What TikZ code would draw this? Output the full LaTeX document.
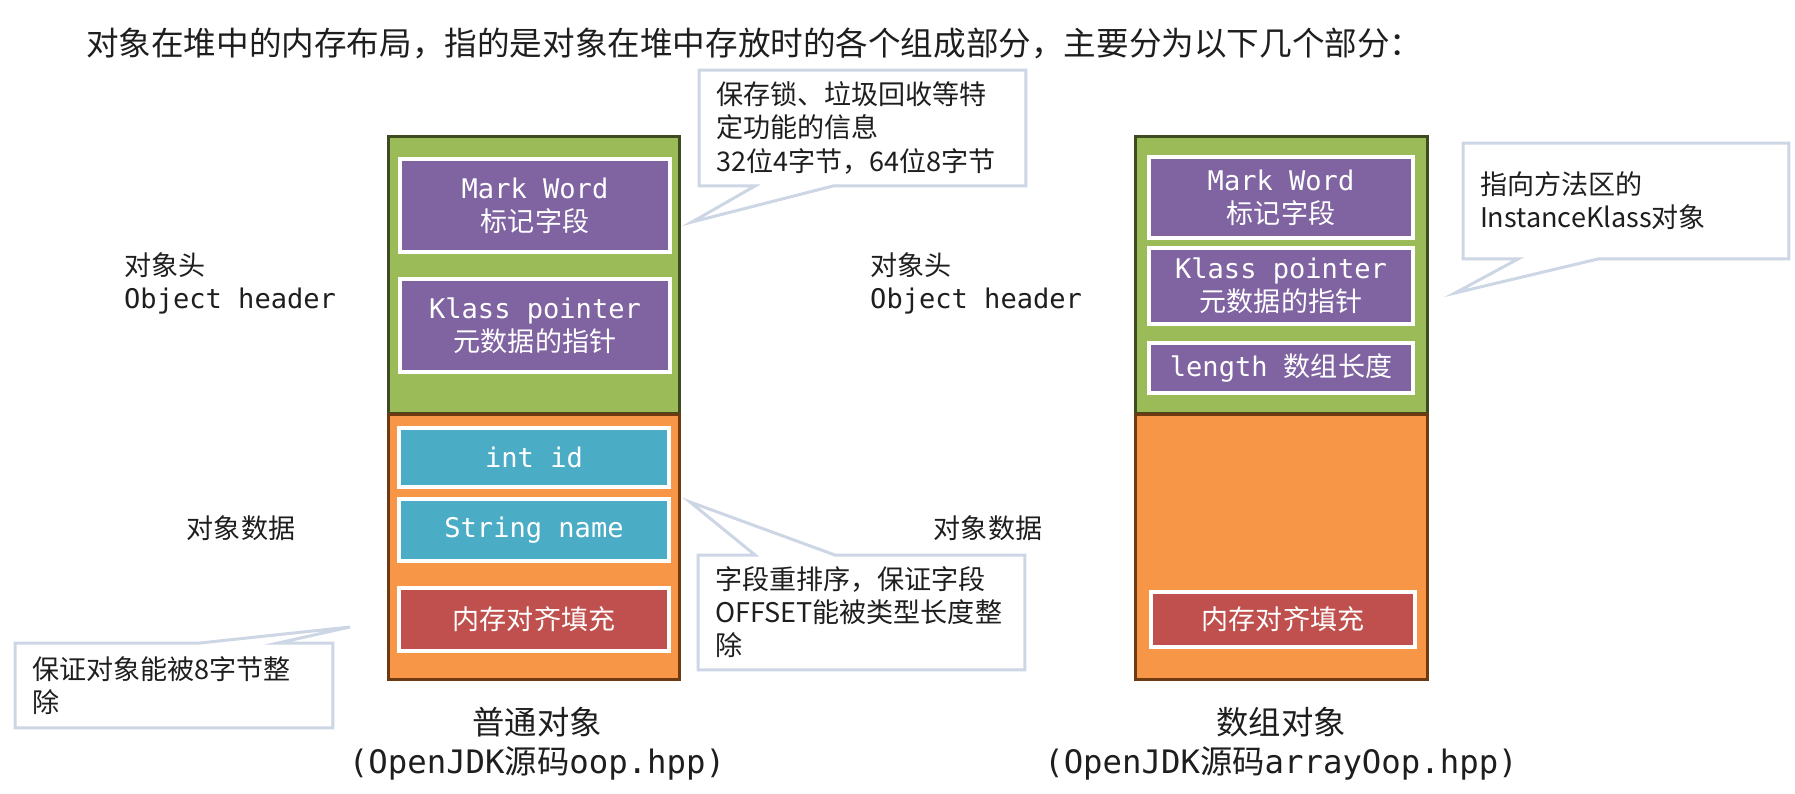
\documentclass[tikz,border=0pt]{standalone}
\usepackage{fontspec}
\setmainfont{Noto Sans CJK SC}
\setmonofont{DejaVu Sans Mono}
\usetikzlibrary{positioning,calc,shadows}
\definecolor{HeadGreen}{RGB}{155,187,89}
\definecolor{HeadEdge}{RGB}{62,74,32}
\definecolor{DataOrange}{RGB}{247,150,70}
\definecolor{DataEdge}{RGB}{110,58,18}
\definecolor{FieldPurple}{RGB}{128,100,162}
\definecolor{FieldBlue}{RGB}{75,172,198}
\definecolor{FieldRed}{RGB}{192,80,77}
\definecolor{NoteEdge}{RGB}{205,214,228}
\definecolor{InkText}{RGB}{30,30,30}
\newcommand{\bodysize}{\fontsize{15.4pt}{18.8pt}\selectfont}
\tikzset{
  headpart/.style={draw=HeadEdge,fill=HeadGreen,line width=0.06cm,outer sep=0,
    minimum width=5.84cm,minimum height=5.56cm},
  datapart/.style={draw=DataEdge,fill=DataOrange,line width=0.06cm,outer sep=0,
    minimum width=5.84cm,minimum height=5.32cm},
  fieldbox/.style={draw=white,line width=0.08cm,outer sep=0,inner sep=0,
    align=center,text=white,font=\bodysize,
    drop shadow={opacity=0.25,shadow xshift=0.5pt,shadow yshift=-1.2pt}},
  purplebox/.style={fieldbox,fill=FieldPurple},
  bluebox/.style={fieldbox,fill=FieldBlue},
  redbox/.style={fieldbox,fill=FieldRed},
  note/.style={align=left,font=\bodysize,text=InkText,outer sep=0,
    inner xsep=0.34cm,inner ysep=0pt},
  noteline/.style={draw=NoteEdge,line width=0.06cm},
  sidelabel/.style={align=left,text=InkText,font=\bodysize},
  caption/.style={align=center,text=InkText,font=\fontsize{18.4pt}{22.2pt}\selectfont}
}

\begin{document}
\begin{tikzpicture}[x=0.02cm,y=-0.02cm]
  \useasboundingbox (0,0) rectangle (1795,794);
  \node[anchor=west,text=InkText,font=\fontsize{18.55pt}{22pt}\selectfont] (title) at (80,43)
    {对象在堆中的内存布局，指的是对象在堆中存放时的各个组成部分，主要分为以下几个部分：};

  \node[headpart] (lhead) at (534,275) {};
  \node[datapart] (ldata) at (534,547) {};
  \node[purplebox,minimum width=5.4cm,minimum height=1.86cm] (lmark) at (535,205.5)
    {{\ttfamily Mark Word}\\标记字段};
  \node[purplebox,minimum width=5.4cm,minimum height=1.86cm,below=0.54cm of lmark] (lklass)
    {{\ttfamily Klass pointer}\\元数据的指针};
  \node[bluebox,minimum width=5.4cm,minimum height=1.18cm] (lid) at (534,457.5)
    {\ttfamily int id};
  \node[bluebox,minimum width=5.4cm,minimum height=1.24cm,below=0.24cm of lid] (lname)
    {\ttfamily String name};
  \node[redbox,minimum width=5.4cm,minimum height=1.26cm,below=0.54cm of lname] (lpad)
    {内存对齐填充};

  \node[headpart] (rhead) at (1281.5,275) {};
  \node[datapart] (rdata) at (1281.5,547) {};
  \node[purplebox,minimum width=5.28cm,minimum height=1.62cm] (rmark) at (1281,197.5)
    {{\ttfamily Mark Word}\\标记字段};
  \node[purplebox,minimum width=5.28cm,minimum height=1.52cm,below=0.2cm of rmark] (rklass)
    {{\ttfamily Klass pointer}\\元数据的指针};
  \node[purplebox,minimum width=5.28cm,minimum height=1.0cm,below=0.38cm of rklass] (rlen)
    {{\ttfamily length\ }数组长度};
  \node[redbox,minimum width=5.28cm,minimum height=1.1cm] (rpad) at (1283,619.5)
    {内存对齐填充};

  \node[sidelabel,anchor=west] (lheadlbl) at (118,283) {对象头\\{\ttfamily Object header}};
  \node[sidelabel] (ldatalbl) at (241,528) {对象数据};
  \node[sidelabel,anchor=west] (rheadlbl) at (864,283) {对象头\\{\ttfamily Object header}};
  \node[sidelabel] (rdatalbl) at (988,528) {对象数据};

  \node[caption] (lcap) at (537,744) {普通对象\\{\ttfamily (OpenJDK}源码{\ttfamily oop.hpp)}};
  \node[caption] (rcap) at (1281,744) {数组对象\\{\ttfamily (OpenJDK}源码{\ttfamily arrayOop.hpp)}};

  \node[note,text width=5.86cm,minimum height=2.32cm] (markinfo) at (862.5,128)
    {保存锁、垃圾回收等特\\定功能的信息\\32位4字节，64位8字节};
  \coordinate (marktip) at (692,222);
  \draw[noteline] (markinfo.south west) -- (markinfo.north west) -- (markinfo.north east)
    -- (markinfo.south east) -- ($(markinfo.south west)+(2.68cm,0)$) -- (marktip)
    -- ($(markinfo.south west)+(1.12cm,0)$) -- cycle;

  \node[note,text width=5.86cm,minimum height=2.3cm] (fieldinfo) at (861.5,612.5)
    {字段重排序，保证字段\\OFFSET能被类型长度整\\除};
  \coordinate (fieldtip) at (690,502);
  \draw[noteline] (fieldinfo.north west) -- ($(fieldinfo.north west)+(1.14cm,0)$) -- (fieldtip)
    -- ($(fieldinfo.north west)+(2.74cm,0)$) -- (fieldinfo.north east)
    -- (fieldinfo.south east) -- (fieldinfo.south west) -- cycle;

  \node[note,text width=5.68cm,minimum height=1.7cm] (padinfo) at (174,685.5)
    {保证对象能被8字节整\\除};
  \coordinate (padtip) at (350,627);
  \draw[noteline] (padinfo.north west) -- ($(padinfo.north west)+(3.7cm,0)$) -- (padtip)
    -- ($(padinfo.north west)+(5.26cm,0)$) -- (padinfo.north east)
    -- (padinfo.south east) -- (padinfo.south west) -- cycle;

  \node[note,text width=5.84cm,minimum height=2.32cm] (klassinfo) at (1626,201)
    {指向方法区的\\InstanceKlass对象};
  \coordinate (klasstip) at (1455,293);
  \draw[noteline] (klassinfo.south west) -- (klassinfo.north west) -- (klassinfo.north east)
    -- (klassinfo.south east) -- ($(klassinfo.south west)+(2.7cm,0)$) -- (klasstip)
    -- ($(klassinfo.south west)+(1.1cm,0)$) -- cycle;
\end{tikzpicture}
\end{document}
